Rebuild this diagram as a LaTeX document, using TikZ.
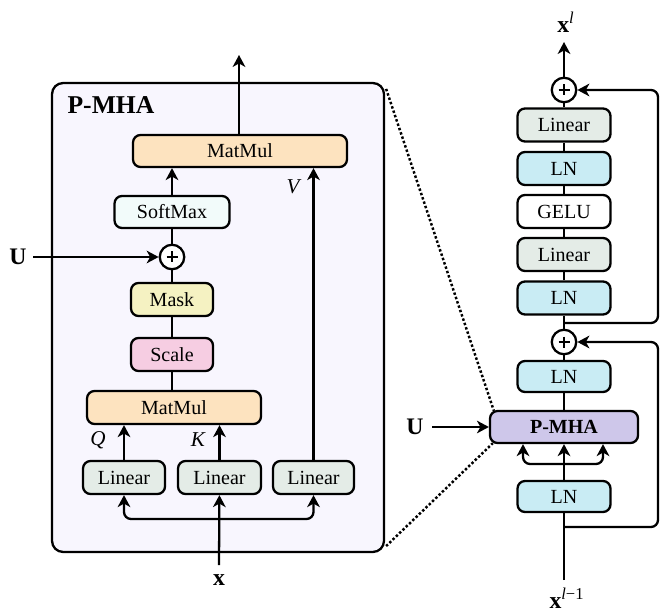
\documentclass[tikz,border=0pt]{standalone}
\usepackage{fontspec}
\setmainfont{Liberation Serif}
\usetikzlibrary{arrows.meta,calc}

\definecolor{boxbg}{HTML}{F8F6FE}
\definecolor{linfill}{HTML}{E4ECE7}
\definecolor{lnfill}{HTML}{C9ECF4}
\definecolor{mmfill}{HTML}{FDE3BF}
\definecolor{smfill}{HTML}{F2FBFA}
\definecolor{maskfill}{HTML}{F5F2C2}
\definecolor{scalefill}{HTML}{F6CDE2}
\definecolor{mhafill}{HTML}{CEC7EA}

\begin{document}
\begin{tikzpicture}[x=0.02cm, y=-0.02cm, line width=1.3pt,
  >={Stealth[length=6.8pt,width=7.2pt,inset=2pt]},
  blk/.style={draw, rounded corners=0.15cm, minimum height=0.66cm, inner sep=0pt,
    font=\fontsize{11.4}{13}\selectfont},
  addop/.style={draw, circle, minimum size=0.49cm, inner sep=0pt, fill=white,
    path picture={\draw[line width=1.2pt] (path picture bounding box.center) +(-5.5,0) -- +(5.5,0)
      (path picture bounding box.center) +(0,-5.5) -- +(0,5.5);}},
  sym/.style={font=\fontsize{13.5}{15}\selectfont\bfseries},
  qkv/.style={font=\fontsize{12}{14}\selectfont\itshape}]
\useasboundingbox (0,0) rectangle (661,614);

% P-MHA detail
\node[draw, fill=boxbg, rounded corners=0.22cm, minimum width=6.64cm, minimum height=9.38cm, inner sep=0pt] (pbox) at (218,317.5) {};
\node[font=\fontsize{14.6}{16}\selectfont\bfseries] (title) at (111,105) {P-MHA};

\node[blk, fill=mmfill, minimum width=4.28cm, minimum height=0.64cm] (mm2) at (240,151) {MatMul};
\node[blk, fill=smfill, minimum width=2.3cm, minimum height=0.64cm] (softmax) at (172,212) {SoftMax};
\node[addop] (plus1) at (172,257) {};
\node[blk, fill=maskfill, minimum width=1.64cm] (mask) at (172,299.5) {Mask};
\node[blk, fill=scalefill, minimum width=1.64cm] (scale) at (172,354.5) {Scale};
\node[blk, fill=mmfill, minimum width=3.48cm] (mm1) at (174,407.5) {MatMul};
\node[blk, fill=linfill, minimum width=1.64cm] (lin1) at (124,477.5) {Linear};
\node[blk, fill=linfill, minimum width=1.66cm] (lin2) at (219.5,477.5) {Linear};
\node[blk, fill=linfill, minimum width=1.62cm] (lin3) at (313.5,477.5) {Linear};

\node[qkv] (qlab) at (98,440) {Q};
\node[qkv] (klab) at (198,440) {K};
\node[qkv] (vlab) at (293,187) {V};

\node[sym] (ulab) at (18,257) {U};
\coordinate (uin) at (33,257);
\node[sym] (xlab) at (219,580) {x};
\coordinate (xin) at (219,565);
\coordinate (xsplit) at (219,519);
\coordinate (mhaout) at (239,55);

\draw[->] (mm2.north -| mhaout) -- (mhaout);
\draw[->] (softmax) -- (softmax |- mm2.south);
\draw (plus1) -- (softmax);
\draw[->] (uin) -- (plus1);
\draw (mask) -- (plus1);
\draw (scale) -- (mask);
\draw (scale |- mm1.north) -- (scale);
\draw[->] (lin1) -- (lin1 |- mm1.south);
\draw[->] (lin2) -- (lin2 |- mm1.south);
\draw[->] (lin3) -- (lin3 |- mm2.south);
\draw[->] (xin) -- (lin2);
\draw[->, rounded corners=4pt] (xsplit) -| (lin1.south);
\draw[->, rounded corners=4pt] (xsplit) -| (lin3.south);

% encoder block
\node[addop] (plus3) at (564,90) {};
\node[blk, fill=linfill, minimum width=1.86cm] (lina) at (564,125) {Linear};
\node[blk, fill=lnfill, minimum width=1.86cm] (lna) at (564,168.5) {LN};
\node[blk, fill=white, minimum width=1.86cm] (gelu) at (564,211.5) {GELU};
\node[blk, fill=linfill, minimum width=1.86cm] (linb) at (564,254.5) {Linear};
\node[blk, fill=lnfill, minimum width=1.86cm] (lnb) at (564,298) {LN};
\node[addop] (plus2) at (564,342) {};
\node[blk, fill=lnfill, minimum width=1.86cm, minimum height=0.62cm] (lnc) at (564,376.5) {LN};
\node[blk, fill=mhafill, minimum width=2.96cm, minimum height=0.64cm, font=\fontsize{11.4}{13}\selectfont\bfseries] (pmha) at (564,427) {P-MHA};
\node[blk, fill=lnfill, minimum width=1.86cm, minimum height=0.62cm] (lnd) at (564,496.5) {LN};

\node[sym] (xl) at (566,22) {x\textsuperscript{\mdseries\itshape l}};
\coordinate (xlout) at (564,42);
\node[sym] (xprev) at (567,598) {x\textsuperscript{\mdseries\itshape l\upshape −1}};
\coordinate (xin2) at (564,580);
\node[sym] (ulab2) at (415,427) {U};
\coordinate (uin2) at (432,427);
\coordinate (split2) at (564,464);
\coordinate (res1) at (564,527);
\coordinate (res2) at (564,323);

\draw[->] (plus3) -- (xlout);
\draw (lina) -- (plus3);
\draw (lna) -- (lina);
\draw (gelu) -- (lna);
\draw (linb) -- (gelu);
\draw (lnb) -- (linb);
\draw (plus2) -- (lnb);
\draw (lnc) -- (plus2);
\draw (pmha) -- (lnc);
\draw[->] (lnd) -- (pmha);
\draw[->, rounded corners=4pt] (split2) -| ($(pmha.south)+(-41,0)$);
\draw[->, rounded corners=4pt] (split2) -| ($(pmha.south)+(39,0)$);
\draw (xin2) -- (lnd);
\draw[->] (uin2) -- (pmha);
\draw[->, rounded corners=4pt] (res1) -- ++(94,0) |- (plus2);
\draw[->, rounded corners=4pt] (res2) -- ++(94,0) |- (plus3);

% zoom lines
\draw[line width=1.4pt, dash pattern=on 1.4pt off 1.2pt] ($(pbox.north east)+(1,7)$) -- ($(pmha.north west)+(5,1)$);
\draw[line width=1.4pt, dash pattern=on 1.4pt off 1.2pt] ($(pbox.south east)+(1,-7)$) -- ($(pmha.south west)+(4,-1)$);
\end{tikzpicture}
\end{document}
